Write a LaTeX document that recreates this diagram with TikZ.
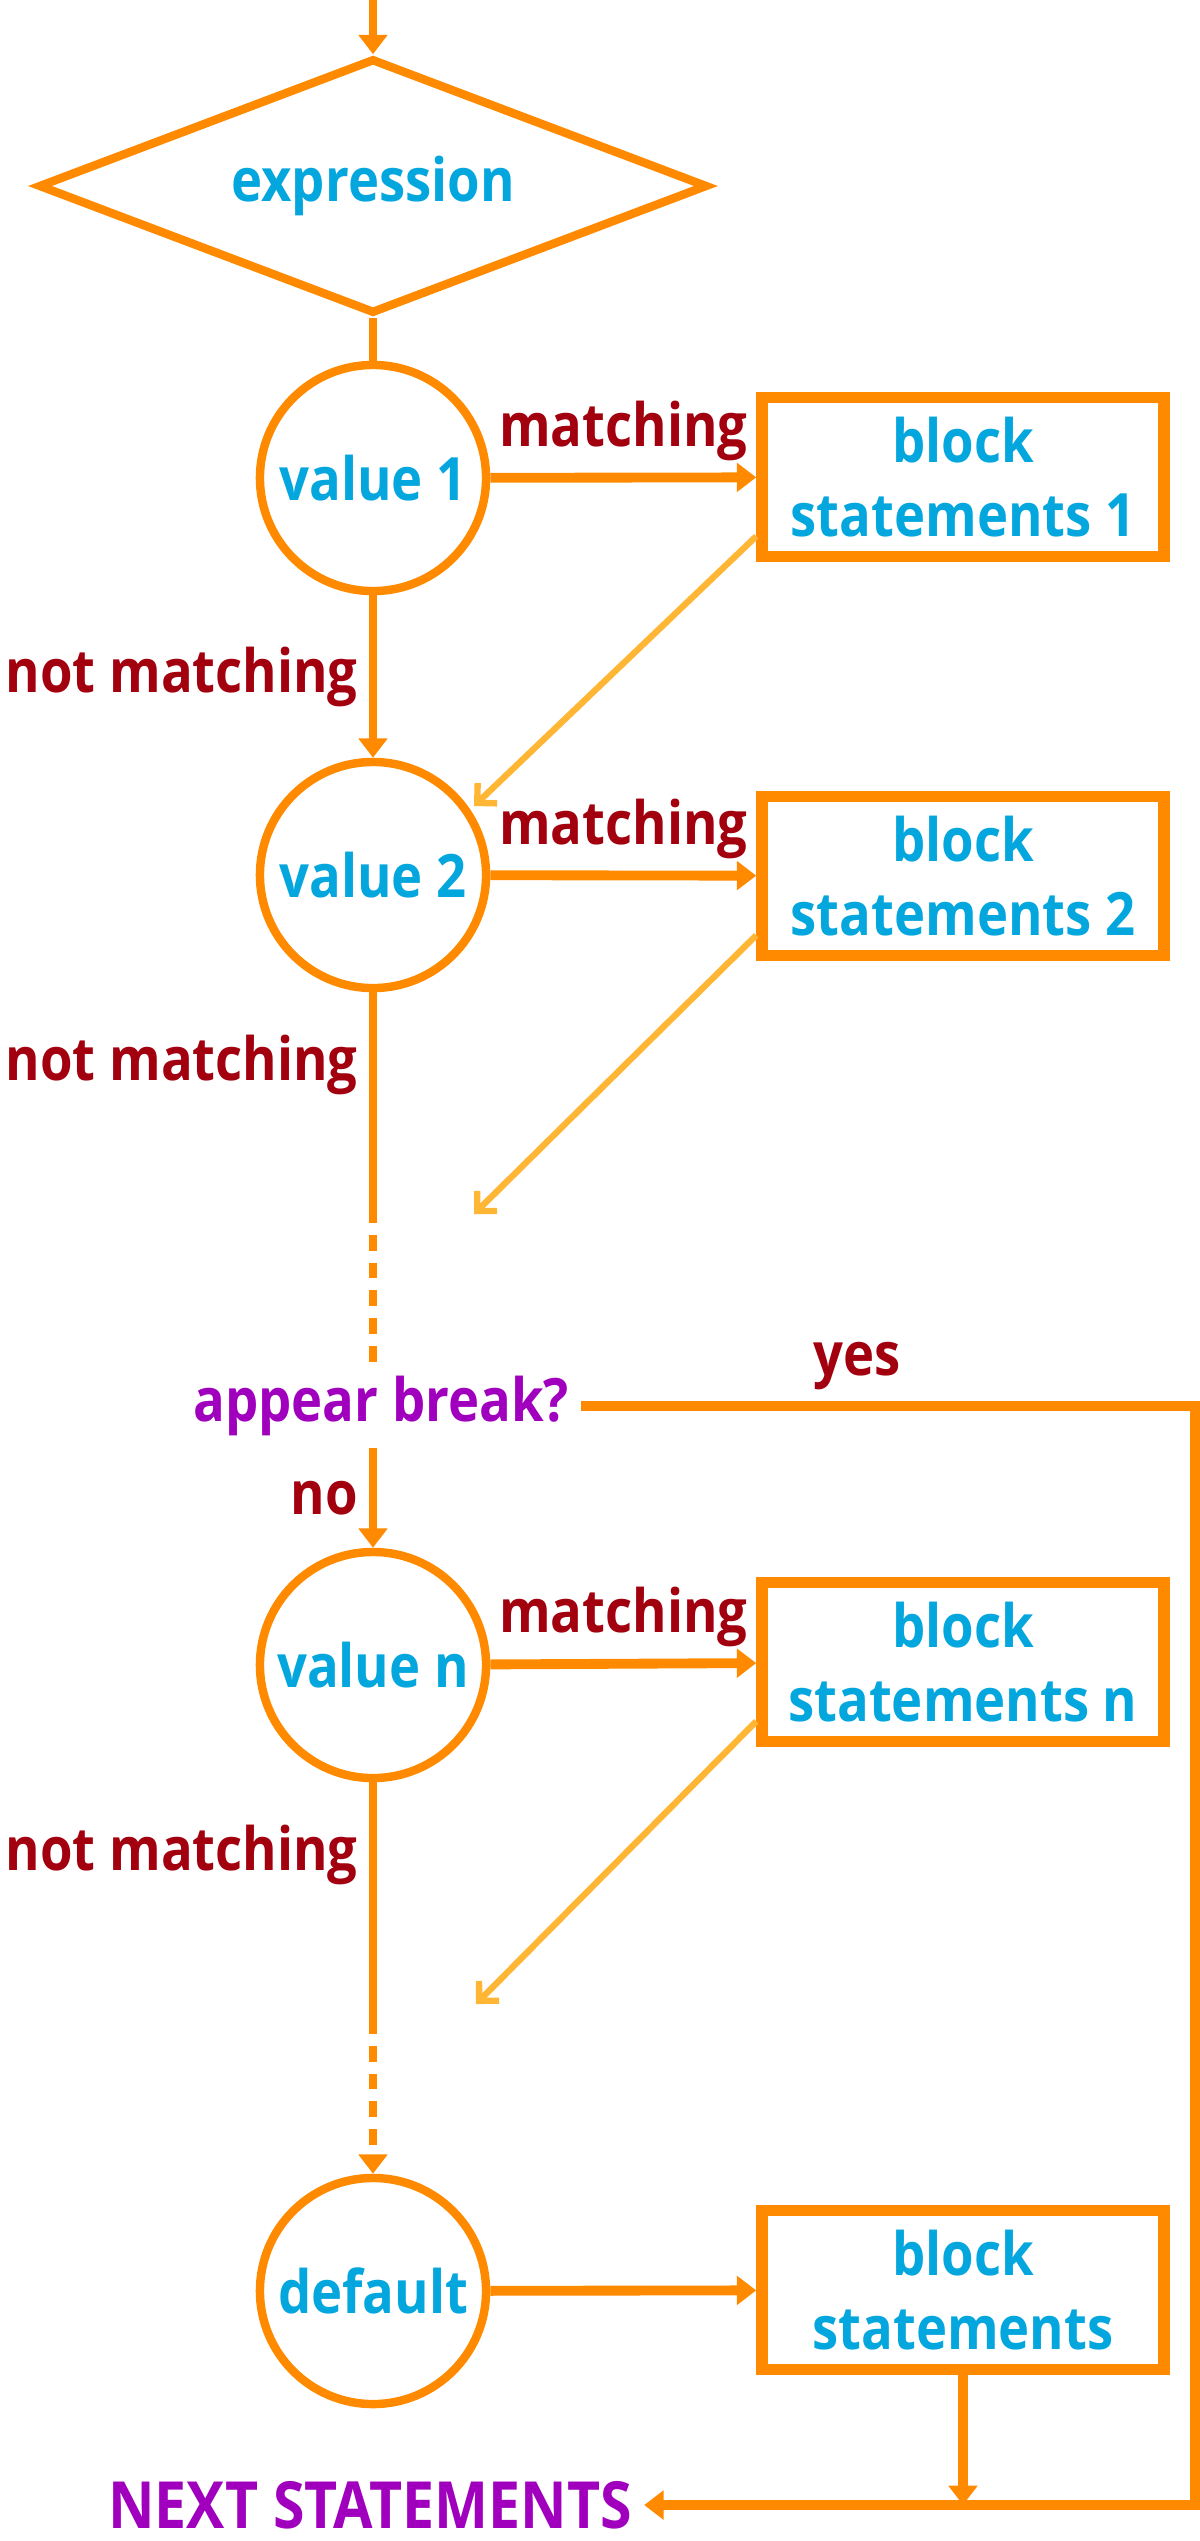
\documentclass[tikz,border=0pt]{standalone}
\usepackage{fontspec}
\setmainfont{Open Sans}[FakeStretch=0.88]
\usetikzlibrary{shapes.geometric,arrows.meta,positioning}
\definecolor{flow}{HTML}{FF8A00}
\definecolor{flowlight}{HTML}{FFB634}
\definecolor{txtblue}{HTML}{04A6DE}
\definecolor{txtred}{HTML}{A2000E}
\definecolor{txtpurple}{HTML}{A000BE}

\begin{document}
\begin{tikzpicture}[x=0.01cm,y=-0.01cm,
    font=\fontsize{17}{21}\selectfont\bfseries,
    >={Triangle[width=8pt,length=5.5pt]},
    casecircle/.style={circle,draw=flow,line width=2.4pt,minimum size=2.26cm,inner sep=0pt,text=txtblue},
    blockbox/.style={rectangle,draw=flow,line width=3.2pt,minimum width=4.02cm,minimum height=1.59cm,inner sep=0pt,align=center,text=txtblue},
    mainline/.style={draw=flow,line width=2pt},
    matchline/.style={draw=flow,line width=2.8pt,->},
    returnline/.style={draw=flow,line width=2.6pt},
    backline/.style={draw=flowlight,line width=1.8pt,-{Straight Barb[width=8pt,length=4pt]}},
    dashline/.style={mainline,dash pattern=on 4.5pt off 3.4pt},
    lbl/.style={text=txtred},
    asklbl/.style={text=txtpurple}]
\useasboundingbox (0,0) rectangle (1200,2541);

\node [diamond,shape aspect=2.62,draw=flow,line width=2.4pt,minimum width=6.69cm,minimum height=2.55cm,inner sep=0pt,text=txtblue] (expr) at (373,186) {expression};
\node [casecircle] (v1) at (373,478) {value 1};
\node [casecircle] (v2) at (373,875) {value 2};
\node [casecircle] (vn) at (373,1665) {value n};
\node [casecircle] (vd) at (373,2291) {default};
\node [blockbox] (b1) at (963,477) {block\\statements 1};
\node [blockbox] (b2) at (963,876) {block\\statements 2};
\node [blockbox] (bn) at (963,1662) {block\\statements n};
\node [blockbox] (bd) at (963,2290) {block\\statements};
\node [asklbl] (brk) at (381,1406) {appear break?};
\node [asklbl,font=\fontsize{18.5}{21}\selectfont\bfseries] (next) at (370,2505) {NEXT STATEMENTS};

\coordinate (in) at (373,0);
\coordinate (d1) at (373,1207);
\coordinate (d2) at (373,2018);
\coordinate (r2) at (474,806);
\coordinate (r3) at (474,1214);
\coordinate (r4) at (476,2004);
\coordinate (rc) at (1195,1406);

\draw [mainline,->] (in)--(expr);
\draw [mainline] (expr)--(v1);
\draw [matchline] (v1)--(b1) node[midway,above,lbl] {matching};
\draw [matchline] (v2)--(b2) node[midway,above,lbl] {matching};
\draw [matchline] (vn)--(bn) node[midway,above,lbl] {matching};
\draw [matchline] (vd)--(bd);
\draw [mainline,->] (v1)--(v2) node[midway,left,lbl] {not matching};
\draw [mainline] (v2)--(d1) node[pos=0.34,left,lbl] {not matching};
\draw [dashline] (d1)--(d1 |- brk.north);
\draw [mainline,->] (brk.south -| vn)--(vn) node[midway,left,lbl] {no};
\draw [mainline] (vn)--(d2) node[pos=0.31,left,lbl] {not matching};
\draw [dashline,->] (d2)--(vd);
\draw [backline] (b1.196)--(r2);
\draw [backline] (b2.196)--(r3);
\draw [backline] (bn.196)--(r4);
\draw [returnline,->] (brk.east)--(rc) node[pos=0.45,above,lbl] {yes} |- (next.east);
\draw [returnline,->] (bd.south)--(bd.south |- next);
\end{tikzpicture}
\end{document}
